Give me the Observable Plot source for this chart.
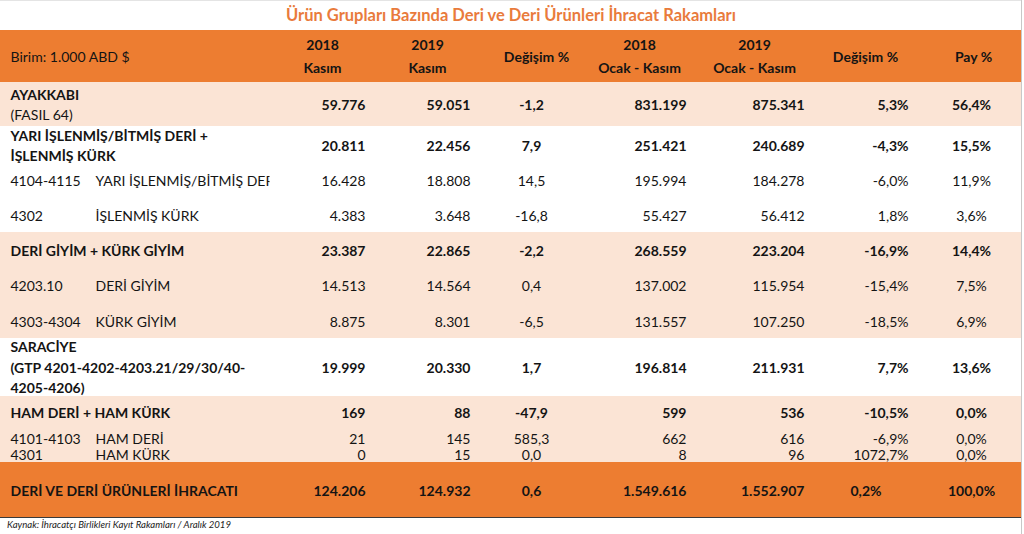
<!DOCTYPE html>
<html>
<head>
<meta charset="utf-8">
<script src="https://cdn.jsdelivr.net/npm/d3@7"></script>
<script src="https://cdn.jsdelivr.net/npm/@observablehq/plot@0.6"></script>
<style>
  html, body { margin: 0; padding: 0; background: #fff; }
  #wrap { position: relative; width: 1024px; height: 534px; overflow: hidden; font-family: Lato, "Open Sans", sans-serif; }
  #title { position: absolute; left: 0; top: 0; width: 1022px; height: 30px; line-height: 31px; text-align: center; color: #E97B3C; font-weight: bold; font-size: 16.5px; }
  #chart { position: absolute; left: 0; top: 30px; }
  #caption { position: absolute; left: 7px; top: 519px; font-size: 9.6px; font-style: italic; color: #222; }
  #edge { position: absolute; left: 1021px; top: 0; width: 1px; height: 534px; background: #c8c8c8; }
  #topedge { position: absolute; left: 0; top: 0; width: 1022px; height: 1px; background: #e4e4e4; }
</style>
</head>
<body>
<div id="wrap">
  <div id="topedge"></div>
  <div id="title"></div>
  <div id="chart"></div>
  <div id="caption"></div>
  <div id="edge"></div>
</div>
<script>
// ---------- DATA ----------
const titleText = "Ürün Grupları Bazında Deri ve Deri Ürünleri İhracat Rakamları";
const captionText = "Kaynak: İhracatçı Birlikleri Kayıt Rakamları / Aralık 2019";
const unitText = "Birim: 1.000 ABD $";
const headers = ["2018\nKasım", "2019\nKasım", "Değişim %", "2018\nOcak - Kasım", "2019\nOcak - Kasım", "Değişim %", "Pay %"];

const codes = ["", "", "4104-4115", "4302", "", "4203.10", "4303-4304", "", "", "4101-4103", "4301", ""];
const labels = [
  "AYAKKABI",
  "YARI İŞLENMİŞ/BİTMİŞ DERİ +\nİŞLENMİŞ KÜRK",
  "YARI İŞLENMİŞ/BİTMİŞ DERİ",
  "İŞLENMİŞ KÜRK",
  "DERİ GİYİM + KÜRK GİYİM",
  "DERİ GİYİM",
  "KÜRK GİYİM",
  "SARACİYE\n(GTP 4201-4202-4203.21/29/30/40-\n4205-4206)",
  "HAM DERİ + HAM KÜRK",
  "HAM DERİ",
  "HAM KÜRK",
  "DERİ VE DERİ ÜRÜNLERİ İHRACATI"
];
const notes = ["(FASIL 64)", "", "", "", "", "", "", "", "", "", "", ""];
const isGroup = [true, true, false, false, true, false, false, true, true, false, false, true];

const kasim2018 = [59776, 20811, 16428, 4383, 23387, 14513, 8875, 19999, 169, 21, 0, 124206];
const kasim2019 = [59051, 22456, 18808, 3648, 22865, 14564, 8301, 20330, 88, 145, 15, 124932];
const degisimKasim = [-1.2, 7.9, 14.5, -16.8, -2.2, 0.4, -6.5, 1.7, -47.9, 585.3, 0.0, 0.6];
const ocakKasim2018 = [831199, 251421, 195994, 55427, 268559, 137002, 131557, 196814, 599, 662, 8, 1549616];
const ocakKasim2019 = [875341, 240689, 184278, 56412, 223204, 115954, 107250, 211931, 536, 616, 96, 1552907];
const degisimOcak = [5.3, -4.3, -6.0, 1.8, -16.9, -15.4, -18.5, 7.7, -10.5, -6.9, 1072.7, 0.2];
const pay = [56.4, 15.5, 11.9, 3.6, 14.4, 7.5, 6.9, 13.6, 0.0, 0.0, 0.0, 100.0];

// ---------- LAYOUT (positions & styles, kept apart from data) ----------
const W = 1024, TOP = 30, BOTTOM = 518;
const rowY = [105, 146, 181, 216, 251, 286, 322, 368, 413, 439, 455, 491];
const lineGap = [20, 20, 20, 20, 20, 20, 20, 20.5, 20, 20, 20, 20];
const bands = [
  {y1: 30, y2: 82, fill: "#ED7D31"},
  {y1: 82, y2: 126, fill: "#FBE4D5"},
  {y1: 126, y2: 232, fill: "#FFFFFF"},
  {y1: 232, y2: 338, fill: "#FBE4D5"},
  {y1: 338, y2: 396, fill: "#FFFFFF"},
  {y1: 396, y2: 462, fill: "#FBE4D5"},
  {y1: 462, y2: 517, fill: "#ED7D31"}
];
const codeX = 10, nameX = 95;
const colX = [365, 470, 531, 686, 804, 908, 971];
const colAnchor = ["end", "end", "middle", "end", "end", "end", "middle"];
const headerX = [322, 427, 536, 639, 754, 865, 973];
const headerY = 57;
const FS = 14;
const ink = "#141414";

// ---------- BUILD ----------
document.getElementById("title").textContent = titleText;
document.getElementById("caption").textContent = captionText;

const tr = d3.formatLocale({decimal: ",", thousands: ".", grouping: [3], currency: ["", ""], minus: "-"});
const fInt = tr.format(",d");
const f1 = tr.format(".1f");
const fPct = v => f1(v) + "%";

const columns = [
  {vals: kasim2018, fmt: fInt},
  {vals: kasim2019, fmt: fInt},
  {vals: degisimKasim, fmt: f1},
  {vals: ocakKasim2018, fmt: fInt},
  {vals: ocakKasim2019, fmt: fInt},
  {vals: degisimOcak, fmt: fPct},
  {vals: pay, fmt: fPct}
];

// cells
const cells = [];
columns.forEach((col, c) => {
  col.vals.forEach((v, i) => {
    const total = i === rowY.length - 1;
    let anchor = colAnchor[c], x = colX[c];
    if (total && c === 5) { anchor = "start"; x = 850; }
    cells.push({x, y: rowY[i], text: col.fmt(v), bold: isGroup[i], anchor});
  });
});

// label lines
const labelLines = [];
labels.forEach((lab, i) => {
  const lines = lab.split("\n");
  if (notes[i]) lines.push(notes[i]);
  const n = lines.length;
  lines.forEach((ln, k) => {
    const isNote = notes[i] && k === n - 1;
    labelLines.push({
      x: isGroup[i] ? codeX : nameX,
      y: rowY[i] + (k - (n - 1) / 2) * lineGap[i],
      text: ln,
      bold: isGroup[i] && !isNote,
      clip: !isGroup[i] && ln.length > 20
    });
  });
  if (codes[i]) labelLines.push({x: codeX, y: rowY[i], text: codes[i], bold: false, clip: false});
});

// header lines
const headerLines = [];
headers.forEach((h, c) => {
  const lines = h.split("\n");
  lines.forEach((ln, k) => headerLines.push({x: headerX[c], y: headerY + (k - (lines.length - 1) / 2) * 23, text: ln}));
});

const textOpts = {x: "x", y: "y", text: "text", fill: ink, fontSize: FS, lineAnchor: "middle"};
const anchors = ["start", "middle", "end"];
const cellMarks = [];
for (const a of anchors) for (const b of [true, false]) {
  const sub = cells.filter(d => d.anchor === a && d.bold === b);
  if (sub.length) cellMarks.push(Plot.text(sub, {...textOpts, textAnchor: a, fontWeight: b ? "bold" : "normal"}));
}

const chart = Plot.plot({
  width: W,
  height: BOTTOM - TOP,
  margin: 0,
  x: {type: "linear", domain: [0, W], range: [0, W], axis: null},
  y: {type: "linear", domain: [TOP, BOTTOM], range: [0, BOTTOM - TOP], axis: null},
  style: {fontFamily: "Lato, 'Open Sans', sans-serif", background: "transparent", overflow: "visible"},
  marks: [
    Plot.rect(bands, {x1: 0, x2: 1021, y1: "y1", y2: "y2", fill: "fill"}),
    Plot.ruleY([517], {x1: 0, x2: 1021, stroke: "#3a3a3a", strokeWidth: 1.2}),
    Plot.text([{x: codeX, y: headerY, text: unitText}], {...textOpts, textAnchor: "start", fontWeight: "normal"}),
    Plot.text(headerLines, {...textOpts, textAnchor: "middle", fontWeight: "bold"}),
    Plot.text(labelLines.filter(d => d.bold), {...textOpts, textAnchor: "start", fontWeight: "bold"}),
    Plot.text(labelLines.filter(d => !d.bold && !d.clip), {...textOpts, textAnchor: "start", fontWeight: "normal"}),
    Plot.text(labelLines.filter(d => d.clip), {...textOpts, textAnchor: "start", fontWeight: "normal", className: "clipped-label"}),
    ...cellMarks
  ]
});

// clip the overflowing sub-label at its Excel cell edge
const svg = d3.select(chart);
svg.append("defs").append("clipPath").attr("id", "labelclip")
  .append("rect").attr("x", 0).attr("y", 0).attr("width", 269).attr("height", BOTTOM - TOP);
svg.selectAll(".clipped-label").attr("clip-path", "url(#labelclip)");

document.getElementById("chart").appendChild(chart);
</script>
</body>
</html>
